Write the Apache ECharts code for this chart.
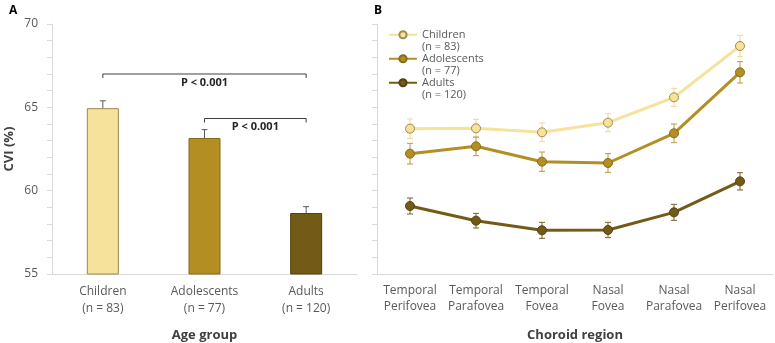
<!DOCTYPE html>
<html>
<head>
<meta charset="utf-8">
<script src="https://cdn.jsdelivr.net/npm/echarts@6/dist/echarts.min.js"></script>
<style>
  html, body { margin: 0; padding: 0; background: #fff; }
  #chart { width: 775px; height: 343px; }
</style>
</head>
<body>
<div id="chart"></div>
<script>
// panel A: mean CVI per age group, with upper SE whisker
const groups = ['Children\n(n = 83)', 'Adolescents\n(n = 77)', 'Adults\n(n = 120)'];
const groupNames = ['Children', 'Adolescents', 'Adults'];
const groupMeans = [64.95, 63.16, 58.66];
const groupErrs = [0.44, 0.5, 0.38];
// significance brackets: [from index, to index, height, text]
const brackets = [
  [0, 2, 67.0, 'P < 0.001'],
  [1, 2, 64.33, 'P < 0.001']
];

// panel B: CVI per choroid region
const regions = ['Temporal\nPerifovea', 'Temporal\nParafovea', 'Temporal\nFovea', 'Nasal\nFovea', 'Nasal\nParafovea', 'Nasal\nPerifovea'];
const childrenCvi = [63.72, 63.74, 63.5, 64.08, 65.6, 68.68];
const childrenErr = [0.58, 0.54, 0.56, 0.54, 0.54, 0.64];
const adolescentCvi = [62.22, 62.66, 61.74, 61.66, 63.44, 67.1];
const adolescentErr = [0.62, 0.56, 0.58, 0.56, 0.56, 0.64];
const adultCvi = [59.08, 58.2, 57.62, 57.64, 58.7, 60.56];
const adultErr = [0.48, 0.44, 0.48, 0.46, 0.48, 0.52];

const fills = ['#F6E29B', '#B38E22', '#735A17'];
const borders = ['#9c8a4e', '#87691a', '#54410f'];
const errColors = ['#EFD98C', '#B8974A', '#7a6328'];
const legendNames = ['Children\n(n = 83)', 'Adolescents\n(n = 77)', 'Adults\n(n = 120)'];

const labelColor = '#595959';
const axisGrey = '#d9d9d9';

const chart = echarts.init(document.getElementById('chart'));

// vertical whisker; onlyUp draws just the upper half
function errorRender(onlyUp, color, capW) {
  return function (params, api) {
    const x = api.value(0), m = api.value(1), e = api.value(2);
    const top = api.coord([x, m + e]);
    const bot = api.coord([x, onlyUp ? m : m - e]);
    const style = { stroke: color, lineWidth: 1 };
    const kids = [
      { type: 'line', shape: { x1: top[0], y1: top[1], x2: bot[0], y2: bot[1] }, style },
      { type: 'line', shape: { x1: top[0] - capW, y1: top[1], x2: top[0] + capW, y2: top[1] }, style }
    ];
    if (!onlyUp) {
      kids.push({ type: 'line', shape: { x1: bot[0] - capW, y1: bot[1], x2: bot[0] + capW, y2: bot[1] }, style });
    }
    return { type: 'group', children: kids };
  };
}

function lineErrSeries(vals, errs, i) {
  return {
    type: 'custom', xAxisIndex: 1, yAxisIndex: 1, silent: true, z: 1,
    renderItem: errorRender(false, errColors[i], 3),
    data: vals.map((v, k) => [k, v, errs[k]])
  };
}

function lineSeries(vals, i) {
  return {
    name: legendNames[i], type: 'line', xAxisIndex: 1, yAxisIndex: 1, z: 3,
    data: vals, symbol: 'circle', symbolSize: 9,
    lineStyle: { color: fills[i], width: 3 },
    itemStyle: { color: fills[i], borderColor: borders[i], borderWidth: 1 }
  };
}

const yAxisCommon = {
  type: 'value', min: 55, max: 70, interval: 1,
  axisLine: { show: true, lineStyle: { color: axisGrey } },
  axisTick: { show: true, length: 5, lineStyle: { color: axisGrey } },
  splitLine: { show: false }
};

const option = {
  animation: false,
  textStyle: { fontFamily: 'Open Sans' },
  title: [
    { text: 'A', left: 4, top: 0, textStyle: { fontSize: 12, fontWeight: 'bold', color: '#000' } },
    { text: 'B', left: 369, top: 0, textStyle: { fontSize: 12, fontWeight: 'bold', color: '#000' } }
  ],
  legend: {
    orient: 'vertical', left: 383, top: 11,
    itemWidth: 28, itemHeight: 9, itemGap: -13.5,
    data: legendNames,
    // leading blank line keeps the icon level with the first line of text
    formatter: name => '\n' + name,
    textStyle: { fontSize: 11, color: labelColor, lineHeight: 12.5 }
  },
  grid: [
    { left: 52, top: 24, width: 305, height: 250, outerBoundsMode: 'none' },
    { left: 377, top: 24, width: 396, height: 250, outerBoundsMode: 'none' }
  ],
  xAxis: [
    {
      gridIndex: 0, type: 'category', data: groups,
      axisLine: { lineStyle: { color: axisGrey } }, axisTick: { show: false },
      axisLabel: { color: labelColor, fontSize: 12, lineHeight: 17, margin: 9 },
      name: 'Age group', nameLocation: 'middle', nameGap: 55,
      nameTextStyle: { fontSize: 13, fontWeight: 'bold', color: '#404040' }
    },
    {
      gridIndex: 1, type: 'category', data: regions,
      axisLine: { lineStyle: { color: axisGrey } }, axisTick: { show: false },
      axisLabel: { color: labelColor, fontSize: 12, lineHeight: 16, margin: 9, interval: 0 },
      name: 'Choroid region', nameLocation: 'middle', nameGap: 55,
      nameTextStyle: { fontSize: 13, fontWeight: 'bold', color: '#404040' }
    }
  ],
  yAxis: [
    Object.assign({}, yAxisCommon, {
      gridIndex: 0,
      axisLabel: { color: labelColor, fontSize: 12, margin: 14, formatter: v => (v % 5 === 0 ? v : '') },
      name: 'CVI (%)', nameLocation: 'middle', nameGap: 36, nameRotate: 90,
      nameTextStyle: { fontSize: 13, fontWeight: 'bold', color: '#404040' }
    }),
    Object.assign({}, yAxisCommon, { gridIndex: 1, axisLabel: { show: false } })
  ],
  series: [
    {
      type: 'bar', xAxisIndex: 0, yAxisIndex: 0, barWidth: 32,
      data: groupMeans.map((v, i) => ({
        value: v, name: groupNames[i],
        itemStyle: { color: fills[i], borderColor: borders[i], borderWidth: 1 }
      }))
    },
    {
      type: 'custom', xAxisIndex: 0, yAxisIndex: 0, silent: true,
      renderItem: errorRender(true, '#595959', 3),
      data: groupMeans.map((v, i) => [i, v, groupErrs[i]])
    },
    {
      // significance brackets
      type: 'custom', xAxisIndex: 0, yAxisIndex: 0, silent: true,
      renderItem: function (params, api) {
        const a = api.coord([api.value(0), api.value(2)]);
        const b = api.coord([api.value(1), api.value(2)]);
        const style = { stroke: '#404040', lineWidth: 1, fill: null };
        return {
          type: 'group', children: [
            { type: 'polyline', shape: { points: [[a[0], a[1] + 4], [a[0], a[1]], [b[0], b[1]], [b[0], b[1] + 4]] }, style },
            {
              type: 'text',
              style: {
                x: (a[0] + b[0]) / 2, y: a[1] + 3, text: brackets[params.dataIndex][3],
                align: 'center', verticalAlign: 'top',
                font: 'bold 11px "Open Sans"', fill: '#262626'
              }
            }
          ]
        };
      },
      data: brackets.map(b => [b[0], b[1], b[2]])
    },
    lineErrSeries(childrenCvi, childrenErr, 0),
    lineErrSeries(adolescentCvi, adolescentErr, 1),
    lineErrSeries(adultCvi, adultErr, 2),
    lineSeries(childrenCvi, 0),
    lineSeries(adolescentCvi, 1),
    lineSeries(adultCvi, 2)
  ]
};

chart.setOption(option);
</script>
</body>
</html>
